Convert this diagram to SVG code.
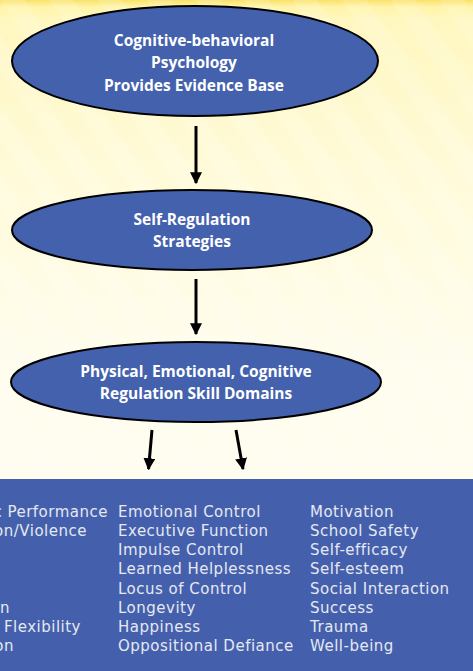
<svg xmlns="http://www.w3.org/2000/svg" width="473" height="671" viewBox="0 0 473 671">
<defs>
<linearGradient id="bg" x1="0" y1="0" x2="0" y2="1">
<stop offset="0" stop-color="#F9E26A"/>
<stop offset="0.01" stop-color="#FFF4A8"/>
<stop offset="0.03" stop-color="#FFF7C0"/>
<stop offset="0.25" stop-color="#FFFAD8"/>
<stop offset="0.55" stop-color="#FFFDEE"/>
<stop offset="1" stop-color="#FFFDF0"/>
</linearGradient>
<pattern id="stripes" width="40" height="40" patternUnits="userSpaceOnUse" patternTransform="rotate(-35)">
<rect x="0" y="0" width="20" height="40" fill="#FFFFFF" opacity="0.14"/>
</pattern>
<marker id="ah" viewBox="0 0 10 10" refX="9" refY="5" markerWidth="4" markerHeight="4" orient="auto" markerUnits="strokeWidth">
<path d="M0,0 L10,5 L0,10 Z" fill="#000"/>
</marker>
<style>
.node ellipse{fill:#4461AE;stroke:#000;stroke-width:2}
.node text{font-family:"Open Sans","Noto Sans",sans-serif;font-weight:bold;font-size:15.5px;fill:#FFFFFF;text-anchor:middle}
.conn line{stroke:#000;stroke-width:3;marker-end:url(#ah)}
.list text{font-family:"DejaVu Sans",Verdana,sans-serif;font-size:15px;letter-spacing:0.5px;fill:#E6E8F2}
</style>
</defs>
<rect x="0" y="0" width="473" height="671" fill="url(#bg)"/>
<rect x="0" y="0" width="473" height="479" fill="url(#stripes)"/>
<rect x="0" y="479" width="473" height="192" fill="#4460AC"/>

<g id="node-cbt" class="node">
<ellipse cx="195" cy="61" rx="183" ry="55"/>
<text x="194" y="46">Cognitive-behavioral</text>
<text x="194" y="68">Psychology</text>
<text x="194" y="91">Provides Evidence Base</text>
</g>
<g id="node-srs" class="node">
<ellipse cx="192" cy="230" rx="180" ry="40"/>
<text x="192" y="225">Self-Regulation</text>
<text x="192" y="247">Strategies</text>
</g>
<g id="node-domains" class="node">
<ellipse cx="196" cy="382" rx="185" ry="40"/>
<text x="196" y="377">Physical, Emotional, Cognitive</text>
<text x="196" y="399">Regulation Skill Domains</text>
</g>

<g id="connectors" class="conn">
<line x1="196" y1="126" x2="196" y2="183"/>
<line x1="196" y1="279" x2="196" y2="334"/>
<line x1="152" y1="430" x2="148.5" y2="469"/>
<line x1="236" y1="430" x2="243" y2="469"/>
</g>

<g id="outcomes" class="list">
<text x="108" y="517" text-anchor="end">c Performance</text>
<text x="87" y="536" text-anchor="end">on/Violence</text>
<text x="10" y="613" text-anchor="end">n</text>
<text x="81" y="632" text-anchor="end">Flexibility</text>
<text x="14" y="651" text-anchor="end">on</text>
<text x="118" y="517">Emotional Control</text>
<text x="118" y="536">Executive Function</text>
<text x="118" y="555">Impulse Control</text>
<text x="118" y="574">Learned Helplessness</text>
<text x="118" y="594">Locus of Control</text>
<text x="118" y="613">Longevity</text>
<text x="118" y="632">Happiness</text>
<text x="118" y="651">Oppositional Defiance</text>
<text x="310" y="517">Motivation</text>
<text x="310" y="536">School Safety</text>
<text x="310" y="555">Self-efficacy</text>
<text x="310" y="574">Self-esteem</text>
<text x="310" y="594">Social Interaction</text>
<text x="310" y="613">Success</text>
<text x="310" y="632">Trauma</text>
<text x="310" y="651">Well-being</text>
</g>
</svg>
